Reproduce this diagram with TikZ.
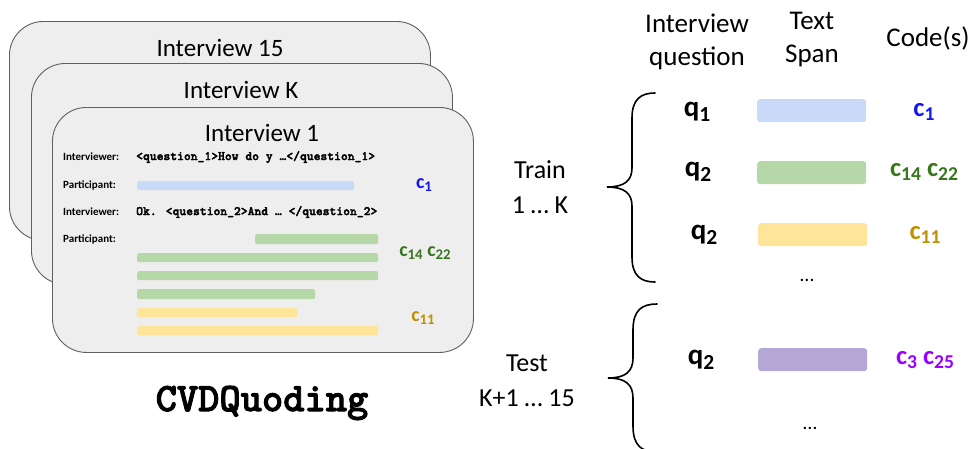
\documentclass[tikz,border=0pt]{standalone}
\usepackage{fontspec}
\setmainfont{Carlito}
\newfontfamily\cvdmono{lmmonolt10-bold.otf}[FakeBold=2.2]
\definecolor{cardfill}{HTML}{EEEEEE}
\definecolor{cardline}{HTML}{5F5F5F}
\definecolor{bluebar}{HTML}{C9DAF8}
\definecolor{greenbar}{HTML}{B6D7A8}
\definecolor{yellowbar}{HTML}{FFE599}
\definecolor{purplebar}{HTML}{B4A7D6}
\definecolor{codeblue}{HTML}{1515F0}
\definecolor{codegreen}{HTML}{38761D}
\definecolor{codeyellow}{HTML}{BF9000}
\definecolor{codepurple}{HTML}{9900FF}
\newcommand\mysubsc[1]{\raisebox{-0.3ex}{\scalebox{0.74}{#1}}}
\newcommand\mycode[1]{c\mysubsc{#1}}
\newcommand\myq[1]{q\mysubsc{#1}}
\begin{document}
\begin{tikzpicture}[x=1pt,y=-1pt,
  card/.style={draw=cardline, fill=cardfill, line width=0.9pt, rounded corners=34pt, anchor=north west, inner sep=0},
  cardtitle/.style={font=\fontsize{25}{28}\selectfont, inner sep=0},
  spk/.style={font=\fontsize{11}{13}\selectfont\bfseries, anchor=west, inner sep=0},
  codeline/.style={font=\fontsize{13}{15}\selectfont\cvdmono, anchor=west, inner sep=0},
  bar/.style={rounded corners=1.5pt, anchor=north west, inner sep=0, draw=none},
  rbar/.style={rounded corners=3pt, anchor=north west, inner sep=0, draw=none, minimum width=109, minimum height=23},
  clab/.style={font=\fontsize{20}{22}\selectfont\bfseries, inner sep=0},
  rclab/.style={font=\fontsize{26.5}{28}\selectfont\bfseries, inner sep=0},
  qlab/.style={font=\fontsize{29}{31}\selectfont\bfseries, inner sep=0},
  head/.style={font=\fontsize{27}{33}\selectfont, align=center, inner sep=0},
  side/.style={font=\fontsize{26}{35}\selectfont, align=center, inner sep=0},
  brace/.style={line width=1.6pt, line cap=round},
  dots/.style={font=\fontsize{20}{22}\selectfont, inner sep=0}
]
\useasboundingbox (0,0) rectangle (972,448);
\clip (0,0) rectangle (972,448);

% stacked cards
\node[card, minimum width=421, minimum height=219] (card15) at (9,21) {};
\node[cardtitle] (t15) at (220,48) {Interview 15};
\node[card, minimum width=421, minimum height=221] (cardK) at (31,63) {};
\node[cardtitle] (tK) at (241,90) {Interview K};
\node[card, minimum width=421, minimum height=245] (card1) at (52,107) {};
\node[cardtitle] (t1) at (262,133) {Interview 1};

% transcript lines
\node[spk] (s1) at (63,157) {Interviewer:};
\node[codeline] (l1) at (136,157) {<question\_1>How do y …</question\_1>};
\node[spk] (s2) at (63,185) {Participant:};
\node[spk] (s3) at (63,212) {Interviewer:};
\node[codeline] (l3) at (136,212) {Ok. <question\_2>And … </question\_2>};
\node[spk] (s4) at (63,239) {Participant:};

% highlighted spans in card
\node[bar, fill=bluebar, minimum width=217, minimum height=9] (b1) at (137,181) {};
\node[bar, fill=greenbar, minimum width=123, minimum height=10] (g1) at (255,234) {};
\node[bar, fill=greenbar, minimum width=241, minimum height=9] (g2) at (137,253) {};
\node[bar, fill=greenbar, minimum width=241, minimum height=9] (g3) at (137,271) {};
\node[bar, fill=greenbar, minimum width=178, minimum height=10] (g4) at (137,289) {};
\node[bar, fill=yellowbar, minimum width=160, minimum height=9] (y1) at (137,308) {};
\node[bar, fill=yellowbar, minimum width=241, minimum height=9] (y2) at (137,326) {};

\node[clab, text=codeblue] (cc1) at (424,185) {\mycode{1}};
\node[clab, text=codegreen] (cc2) at (425,253) {\mycode{14} \mycode{22}};
\node[clab, text=codeyellow] (cc3) at (423,318) {\mycode{11}};

\node[font=\fontsize{40.5}{42}\selectfont\cvdmono, inner sep=0] (name) at (262,403) {CVDQuoding};

% headers
\node[head] (h1) at (697,42) {Interview\\question};
\node[head] (h2) at (812,40) {Text\\Span};
\node[head] (h3) at (928,38) {Code(s)};

% train
\node[side] (train) at (540,187) {Train\\1 … K};
\draw[brace] (655,93) .. controls (641,93) and (632,99) .. (632,118) -- (632,168)
  .. controls (632,181) and (624,187) .. (607,187)
  .. controls (624,187) and (632,193) .. (632,206) -- (632,257)
  .. controls (632,276) and (641,282) .. (655,282);

\node[qlab] (q1) at (697,112) {\myq{1}};
\node[qlab] (q2) at (698,172) {\myq{2}};
\node[qlab] (q3) at (704,235) {\myq{2}};
\node[rbar, fill=bluebar] (r1) at (757,99) {};
\node[rbar, fill=greenbar] (r2) at (757,161) {};
\node[rbar, fill=yellowbar] (r3) at (758,223) {};
\node[rclab, text=codeblue] (rc1) at (924,112) {\mycode{1}};
\node[rclab, text=codegreen] (rc2) at (924,172) {\mycode{14} \mycode{22}};
\node[rclab, text=codeyellow] (rc3) at (925,235) {\mycode{11}};
\node[dots] (d1) at (807,280) {…};

% test
\node[side] (test) at (527,381) {Test\\K+1 … 15};
\draw[brace] (657,304) .. controls (642,304) and (633,310) .. (633,330) -- (633,358)
  .. controls (633,372) and (625,378) .. (608,378)
  .. controls (625,378) and (633,384) .. (633,398) -- (633,426)
  .. controls (633,446) and (642,452) .. (657,452);
\node[qlab] (q4) at (701,360) {\myq{2}};
\node[rbar, fill=purplebar] (r4) at (758,348) {};
\node[rclab, text=codepurple] (rc4) at (925,360) {\mycode{3} \mycode{25}};
\node[dots] (d2) at (810,428) {…};
\end{tikzpicture}
\end{document}
